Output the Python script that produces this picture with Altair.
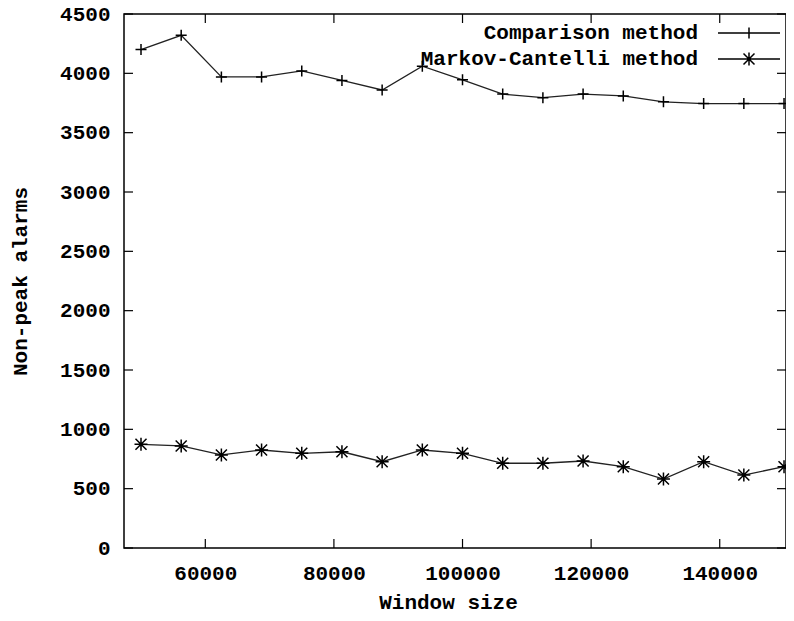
import altair as alt
import pandas as pd

# ---- data ----
window_sizes = [50000, 56250, 62500, 68750, 75000, 81250, 87500, 93750, 100000,
                106250, 112500, 118750, 125000, 131250, 137500, 143750, 150000]
comparison = [4200, 4320, 3970, 3970, 4020, 3940, 3860, 4060, 3945,
              3825, 3795, 3825, 3810, 3760, 3745, 3745, 3745]
markov = [874, 860, 784, 826, 798, 811, 727, 826, 798,
          714, 714, 733, 685, 581, 727, 615, 685]
series_names = ["Comparison method", "Markov-Cantelli method"]
x_ticks = [60000, 80000, 100000, 120000, 140000]
y_ticks = [0, 500, 1000, 1500, 2000, 2500, 3000, 3500, 4000, 4500]

rows = []
for xv, c, m in zip(window_sizes, comparison, markov):
    rows.append({"x": xv, "y": c, "series": series_names[0]})
    rows.append({"x": xv, "y": m, "series": series_names[1]})
df = pd.DataFrame(rows)
xt = pd.DataFrame({"t": x_ticks})
yt = pd.DataFrame({"t": y_ticks})

W, H = 662, 534
FONT = "Liberation Mono"

PLUS = "M-1,0L1,0M0,-1L0,1"
STAR = "M-1,0L1,0M0,-1L0,1M-0.85,-0.85L0.85,0.85M-0.85,0.85L0.85,-0.85"
PLUS_LEG = "M-5.64,0L5.64,0M0,-1L0,1"
STAR_LEG = "M-5.64,0L5.64,0M-1.18,0L1.18,0M0,-1.18L0,1.18M-1,-1L1,1M-1,1L1,-1"

xscale = alt.Scale(domain=[47356, 150306], nice=False, zero=False)
yscale = alt.Scale(domain=[0, 4500], nice=False)

xaxis = alt.Axis(title="Window size", values=x_ticks, format="d", ticks=False,
                 domain=False, grid=False, labelPadding=14,
                 titleX=324, titleY=60, titleBaseline="alphabetic")
yaxis = alt.Axis(title="Non-peak alarms", values=y_ticks, format="d", ticks=False,
                 domain=False, grid=False, labelPadding=14,
                 titleX=-98, titleY=H / 2, titleAngle=270, titleAlign="center",
                 titleBaseline="alphabetic")

X = alt.X("x:Q", scale=xscale, axis=xaxis)
Y = alt.Y("y:Q", scale=yscale, axis=yaxis)

base = alt.Chart(df)

lines = base.mark_line(color="#222222", strokeWidth=1.3).encode(
    x=X, y=Y, detail="series:N")

pts_c = base.transform_filter(alt.datum.series == series_names[0]).mark_point(
    shape=PLUS, size=121, filled=False, color="black", strokeWidth=1.5, opacity=1
).encode(x=X, y=Y)

pts_m = base.transform_filter(alt.datum.series == series_names[1]).mark_point(
    shape=STAR, size=169, filled=False, color="black", strokeWidth=1.5, opacity=1
).encode(x=X, y=Y)

legend_layer = base.transform_filter("false").mark_point(
    filled=False, color="black", strokeWidth=1.5, opacity=1, size=121
).encode(
    x=X, y=Y,
    shape=alt.Shape("series:N",
                    scale=alt.Scale(domain=series_names, range=[PLUS_LEG, STAR_LEG]),
                    legend=alt.Legend(title=None, orient="none", legendX=614.5,
                                      legendY=8.5, padding=0, labelAlign="right",
                                      labelOffset={"expr": "-61.5"}, rowPadding=4,
                                      symbolSize=121, symbolStrokeWidth=1.5,
                                      symbolStrokeColor="black",
                                      symbolFillColor="transparent",
                                      labelFont=FONT, labelFontSize=21,
                                      labelFontWeight="bold", labelColor="black",
                                      labelLimit=0))
)

XT = alt.X("t:Q", scale=xscale, axis=xaxis)
YT = alt.Y("t:Q", scale=yscale, axis=yaxis)
tick_bottom = alt.Chart(xt).mark_rule(color="black", strokeWidth=1.2).encode(
    x=XT, y=alt.value(H), y2=alt.value(H - 9))
tick_top = alt.Chart(xt).mark_rule(color="black", strokeWidth=1.2).encode(
    x=XT, y=alt.value(0), y2=alt.value(9))
tick_left = alt.Chart(yt).mark_rule(color="black", strokeWidth=1.2).encode(
    y=YT, x=alt.value(0), x2=alt.value(9))
tick_right = alt.Chart(yt).mark_rule(color="black", strokeWidth=1.2).encode(
    y=YT, x=alt.value(W), x2=alt.value(W - 9))

chart = alt.layer(
    tick_bottom, tick_top, tick_left, tick_right, lines, pts_c, pts_m, legend_layer
).properties(
    width=W, height=H,
    autosize=alt.AutoSizeParams(type="none"),
    padding={"left": 116, "top": 6, "right": 0, "bottom": 65},
    background="white",
).configure_view(
    stroke="black", strokeWidth=1.5
).configure_axis(
    labelFont=FONT, labelFontSize=21, labelFontWeight="bold", labelColor="black",
    titleFont=FONT, titleFontSize=21, titleFontWeight="bold", titleColor="black",
)

chart.save("out.html", embed_options={"renderer": "svg", "actions": False})
